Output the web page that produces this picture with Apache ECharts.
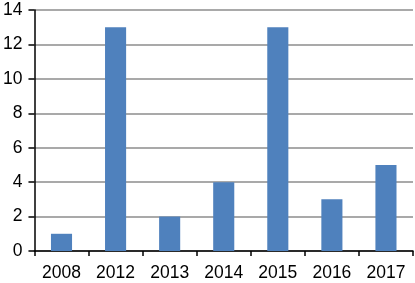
<!DOCTYPE html>
<html><head><meta charset="utf-8">
<script src="https://cdn.jsdelivr.net/npm/echarts@6/dist/echarts.min.js"></script>
<style>html,body{margin:0;padding:0;background:#fff}#c{width:415px;height:283px}</style>
</head><body><div id="c"></div>
<script>
const categories = ['2008','2012','2013','2014','2015','2016','2017'];
const values = [1,13,2,4,13,3,5];
const yTicks = [0,2,4,6,8,10,12,14];

const chart = echarts.init(document.getElementById('c'), null, {renderer:'canvas'});
chart.setOption({
  animation:false,
  grid:{left:33,right:2,top:10,bottom:32,containLabel:false},
  xAxis:{
    type:'category', data:categories,
    axisLine:{lineStyle:{color:'#000',width:1.5}},
    axisTick:{show:true,length:5,alignWithLabel:false,lineStyle:{color:'#000',width:1.5}},
    axisLabel:{color:'#000',fontSize:17.5,fontFamily:'Liberation Sans, Arial, sans-serif',margin:13}
  },
  yAxis:{
    type:'value', min:yTicks[0], max:yTicks[yTicks.length-1], interval:2,
    axisLine:{show:true,lineStyle:{color:'#000',width:1.5}},
    axisTick:{show:true,length:6,lineStyle:{color:'#000',width:1.5}},
    axisLabel:{color:'#000',fontSize:17.5,fontFamily:'Liberation Sans, Arial, sans-serif',margin:12},
    splitLine:{show:true,lineStyle:{color:'#8c8c8c',width:1.5}}
  },
  series:[{
    type:'bar', data:values, barWidth:'39%',
    itemStyle:{color:'#4f81bd'}
  }]
});
</script></body></html>
